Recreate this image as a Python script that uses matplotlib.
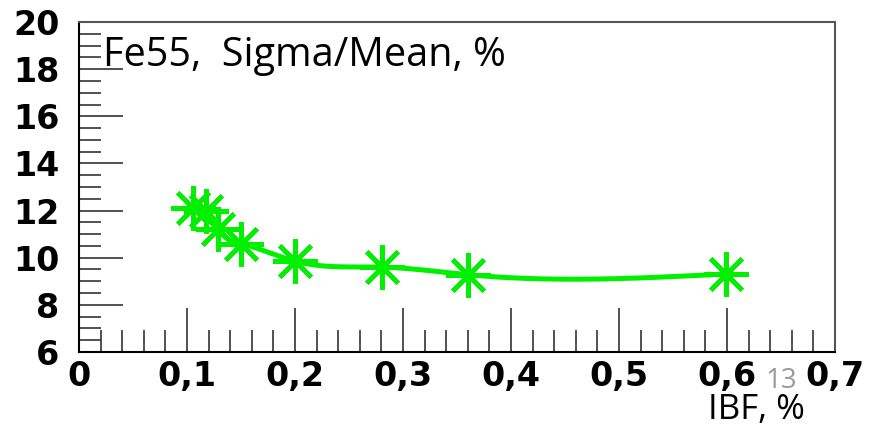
import numpy as np
import matplotlib.pyplot as plt
from matplotlib.ticker import MultipleLocator, FixedLocator

# IBF (%) vs Fe55 energy resolution (sigma/mean, %)
ibf = [0.106, 0.118, 0.129, 0.150, 0.200, 0.281, 0.360, 0.599]
sigma_mean = [12.1, 12.0, 11.2, 10.6, 9.85, 9.6, 9.28, 9.31]

x_ticks = [0, 0.1, 0.2, 0.3, 0.4, 0.5, 0.6, 0.7]
x_tick_labels = ['0', '0,1', '0,2', '0,3', '0,4', '0,5', '0,6', '0,7']
y_ticks = [6, 8, 10, 12, 14, 16, 18, 20]


def natural_spline(x, y, n=400):
    # natural cubic spline through the measured points
    x = np.asarray(x, float)
    y = np.asarray(y, float)
    h = np.diff(x)
    m = len(x)
    A = np.zeros((m, m))
    b = np.zeros(m)
    A[0, 0] = A[-1, -1] = 1
    for i in range(1, m - 1):
        A[i, i - 1] = h[i - 1]
        A[i, i] = 2 * (h[i - 1] + h[i])
        A[i, i + 1] = h[i]
        b[i] = 6 * ((y[i + 1] - y[i]) / h[i] - (y[i] - y[i - 1]) / h[i - 1])
    M = np.linalg.solve(A, b)
    xs = np.linspace(x[0], x[-1], n)
    idx = np.clip(np.searchsorted(x, xs) - 1, 0, m - 2)
    x0, x1 = x[idx], x[idx + 1]
    hh = x1 - x0
    t0, t1 = x1 - xs, xs - x0
    ys = (M[idx] * t0**3 + M[idx + 1] * t1**3) / (6 * hh) \
        + (y[idx] / hh - M[idx] * hh / 6) * t0 \
        + (y[idx + 1] / hh - M[idx + 1] * hh / 6) * t1
    return xs, ys


fig = plt.figure(figsize=(8.75, 4.29), dpi=100)
ax = fig.add_axes([0.0903, 0.1795, 0.8640, 0.7692])

green = '#00f000'
xs, ys = natural_spline(ibf, sigma_mean)
ax.plot(xs, ys, color=green, lw=3.6, solid_capstyle='round', zorder=2)
ax.plot(ibf, sigma_mean, ls='none', marker=(8, 2, 0), ms=32, mew=3.2,
        color=green, zorder=3)

ax.set_xlim(0, 0.7)
ax.set_ylim(6, 20)

ax.xaxis.set_major_locator(FixedLocator(x_ticks))
ax.xaxis.set_minor_locator(MultipleLocator(0.02))
ax.yaxis.set_major_locator(FixedLocator(y_ticks))
ax.yaxis.set_minor_locator(MultipleLocator(0.5))
ax.set_xticklabels(x_tick_labels)

for lab in ax.get_xticklabels() + ax.get_yticklabels():
    lab.set_fontfamily('DejaVu Sans')
    lab.set_fontweight('bold')
    lab.set_fontsize(24)

ax.tick_params(which='both', direction='in', top=False, right=False,
               color='#333333', width=1.2)
ax.tick_params(which='major', length=32, pad=6)
ax.tick_params(which='minor', length=16)
ax.tick_params(axis='y', which='major', pad=14)

for side in ['left', 'bottom']:
    ax.spines[side].set_color('black')
    ax.spines[side].set_linewidth(1.5)
for side in ['top', 'right']:
    ax.spines[side].set_color('#555555')
    ax.spines[side].set_linewidth(1.5)

ax.text(0.032, 0.96, 'Fe55,  Sigma/Mean, %', transform=ax.transAxes,
        ha='left', va='top', fontsize=28.5, family='Open Sans')

fig.text(0.893, 0.112, '13', ha='center', va='center', fontsize=20,
         color='#999999', family='Open Sans')
fig.text(0.865, 0.004, 'IBF, %', ha='center', va='bottom', fontsize=25,
         family='Open Sans')

fig.savefig('out.png', dpi=100)
